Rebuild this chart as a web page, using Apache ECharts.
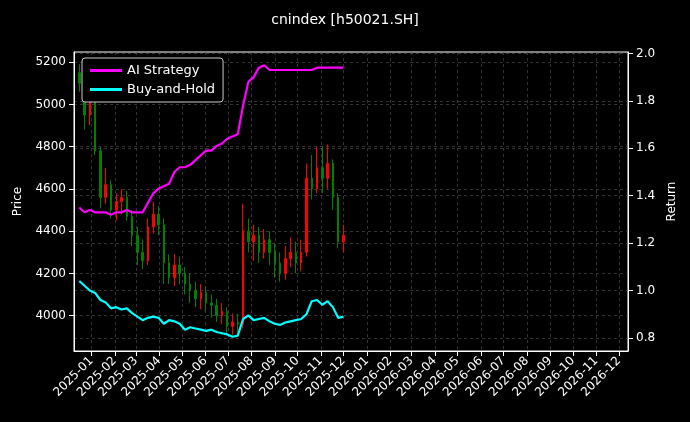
<!DOCTYPE html>
<html>
<head>
<meta charset="utf-8">
<script src="https://cdn.jsdelivr.net/npm/echarts@6/dist/echarts.min.js"></script>
<style>
html,body{margin:0;padding:0;background:#000;}
#chart{width:690px;height:422px;}
</style>
</head>
<body>
<div id="chart"></div>
<script>
// weekly dates (monday)
var dates = ['2024-12-16','2024-12-23','2024-12-30','2025-01-06','2025-01-13','2025-01-20','2025-01-27',
	'2025-02-03','2025-02-10','2025-02-17','2025-02-24','2025-03-03','2025-03-10','2025-03-17','2025-03-24',
	'2025-03-31','2025-04-07','2025-04-14','2025-04-21','2025-04-28','2025-05-05','2025-05-12','2025-05-19',
	'2025-05-26','2025-06-02','2025-06-09','2025-06-16','2025-06-23','2025-06-30','2025-07-07','2025-07-14',
	'2025-07-21','2025-07-28','2025-08-04','2025-08-11','2025-08-18','2025-08-25','2025-09-01','2025-09-08',
	'2025-09-15','2025-09-22','2025-09-29','2025-10-06','2025-10-13','2025-10-20','2025-10-27','2025-11-03',
	'2025-11-10','2025-11-17','2025-11-24','2025-12-01'];
var opens = [5150,5100,4950,5020,4780,4560,4620,4500,4540,4560,4470,4380,4300,4260,4420,4480,4430,4250,4180,4240,
	4200,4150,4120,4080,4110,4060,4050,4000,4020,3950,3970,3960,4400,4350,4380,4300,4360,4300,4250,4200,4270,
	4300,4250,4300,4650,4600,4700,4650,4720,4560,4350];
var closes = [5100,4950,5020,4780,4560,4620,4500,4540,4560,4470,4380,4300,4260,4420,4480,4430,4250,4180,4240,4200,
	4150,4120,4080,4110,4060,4050,4000,4020,3950,3970,3960,4400,4350,4380,4300,4360,4300,4250,4200,4270,4300,
	4250,4300,4650,4600,4700,4650,4720,4560,4350,4380];
var lows = [5060,4880,4900,4760,4510,4530,4460,4450,4480,4450,4330,4240,4220,4240,4390,4380,4150,4150,4140,4150,
	4100,4060,4040,4030,4020,3990,3970,3960,3920,3910,3920,3940,4300,4260,4250,4270,4240,4180,4160,4170,4230,
	4200,4210,4280,4550,4580,4580,4600,4500,4320,4300];
var highs = [5190,5160,5060,5040,4800,4700,4640,4580,4600,4590,4500,4420,4360,4460,4540,4520,4460,4290,4290,4280,
	4230,4200,4160,4150,4140,4100,4080,4060,4040,4010,4010,4530,4460,4430,4420,4410,4400,4340,4300,4330,4370,
	4350,4360,4720,4760,4800,4800,4810,4740,4580,4430];
var aiStrategy = [1.35,1.33,1.34,1.33,1.33,1.33,1.32,1.33,1.33,1.34,1.33,1.33,1.33,1.37,1.41,1.43,1.44,1.45,1.50,1.52,
	1.52,1.53,1.55,1.57,1.59,1.59,1.61,1.62,1.64,1.65,1.66,1.78,1.88,1.90,1.94,1.95,1.93,1.93,1.93,1.93,1.93,
	1.93,1.93,1.93,1.93,1.94,1.94,1.94,1.94,1.94,1.94];
var buyHold = [1.04,1.02,1.00,0.99,0.96,0.95,0.925,0.93,0.92,0.925,0.905,0.89,0.875,0.885,0.89,0.885,0.86,0.875,0.87,0.86,
	0.835,0.845,0.84,0.835,0.83,0.835,0.825,0.82,0.815,0.805,0.81,0.88,0.895,0.875,0.88,0.885,0.87,0.86,0.855,
	0.865,0.87,0.875,0.88,0.90,0.955,0.96,0.94,0.955,0.93,0.885,0.89];
var priceTicks = [4000,4200,4400,4600,4800,5000,5200];
var returnTicks = [0.8,1.0,1.2,1.4,1.6,1.8,2.0];

var candles = dates.map(function(d, i) { return [d, opens[i], closes[i], lows[i], highs[i]]; });
var aiData = dates.map(function(d, i) { return [d, aiStrategy[i]]; });
var bhData = dates.map(function(d, i) { return [d, buyHold[i]]; });

var gridLine = { show: true, lineStyle: { color: '#555', type: [3, 3], width: 0.6 } };
var txt = { color: '#fff', fontSize: 12, fontFamily: 'DejaVu Sans' };

var chart = echarts.init(document.getElementById('chart'));
chart.setOption({
	backgroundColor: '#000',
	animation: false,
	title: { text: 'cnindex [h50021.SH]', left: 'center', top: 8,
		textStyle: { color: '#fff', fontSize: 14, fontWeight: 'normal', fontFamily: 'DejaVu Sans' } },
	legend: {
		left: 82, top: 58, orient: 'vertical', itemGap: 6,
		backgroundColor: '#000', borderColor: '#ccc', borderWidth: 1, borderRadius: 3, padding: [6, 8],
		itemWidth: 32, itemHeight: 3, icon: 'rect',
		textStyle: { color: '#fff', fontSize: 13, fontFamily: 'DejaVu Sans' },
		data: ['AI Strategy', 'Buy-and-Hold']
	},
	grid: { left: 74, right: 62, top: 52, bottom: 71, show: true, borderColor: '#fff', borderWidth: 1 },
	xAxis: {
		type: 'time', min: '2024-12-09', max: '2026-12-13',
		minInterval: 28 * 864e5, maxInterval: 31 * 864e5,
		axisLine: { lineStyle: { color: '#fff' } },
		axisTick: { lineStyle: { color: '#fff' } },
		axisLabel: Object.assign({ rotate: 45, formatter: '{yyyy}-{MM}', hideOverlap: false, showMinLabel: false }, txt),
		splitLine: gridLine
	},
	yAxis: [{
		type: 'value', min: 3833, max: 5248, name: 'Price', nameLocation: 'middle', nameGap: 50,
		nameTextStyle: txt,
		axisLine: { show: true, lineStyle: { color: '#fff' } },
		axisTick: { show: true, customValues: priceTicks, lineStyle: { color: '#fff' } },
		axisLabel: Object.assign({ customValues: priceTicks, formatter: function(v) { return String(v); } }, txt),
		splitLine: gridLine
	}, {
		type: 'value', min: 0.745, max: 2.006, name: 'Return', nameLocation: 'middle', nameGap: 36,
		nameTextStyle: txt,
		axisLine: { show: true, lineStyle: { color: '#fff' } },
		axisTick: { show: true, customValues: returnTicks, lineStyle: { color: '#fff' } },
		axisLabel: Object.assign({ customValues: returnTicks, formatter: function(v) { return v.toFixed(1); } }, txt),
		splitLine: gridLine
	}],
	series: [{
		name: 'Price', type: 'candlestick', data: candles, barMaxWidth: 2,
		itemStyle: { color: '#ff0000', color0: '#008000', borderColor: '#ff0000', borderColor0: '#008000' }
	}, {
		name: 'AI Strategy', type: 'line', yAxisIndex: 1, data: aiData, showSymbol: false,
		itemStyle: { color: '#ff00ff' }, lineStyle: { color: '#ff00ff', width: 2.2 }
	}, {
		name: 'Buy-and-Hold', type: 'line', yAxisIndex: 1, data: bhData, showSymbol: false,
		itemStyle: { color: '#00ffff' }, lineStyle: { color: '#00ffff', width: 2.2 }
	}]
});
</script>
</body>
</html>
